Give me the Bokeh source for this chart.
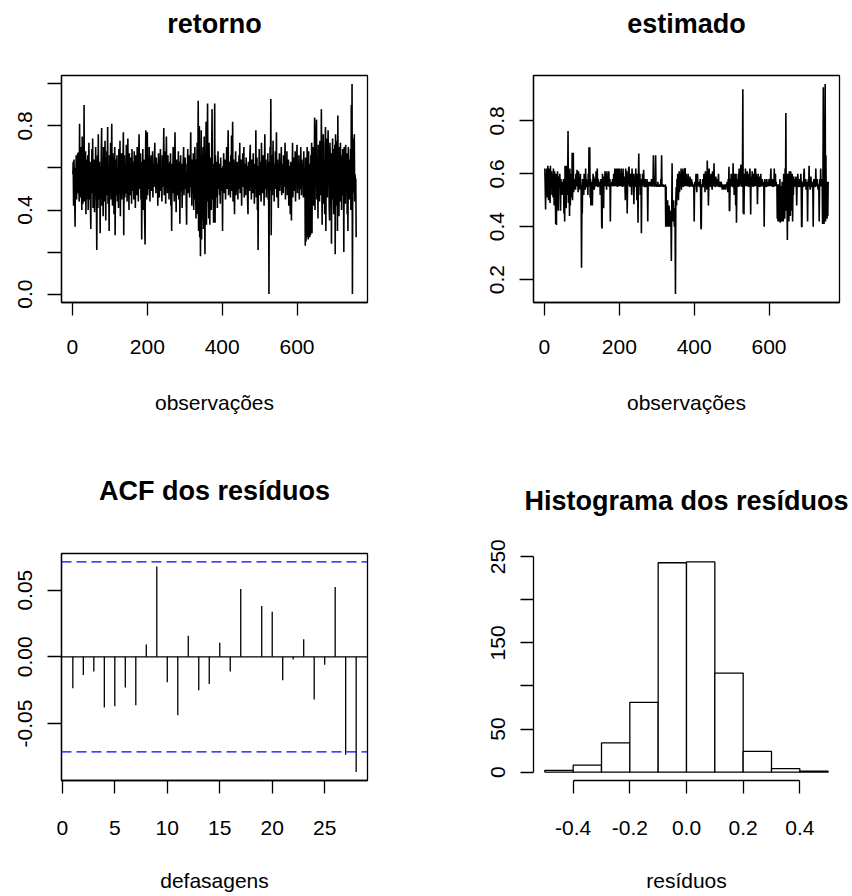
import numpy as np
from bokeh.plotting import figure
from bokeh.models import Range1d, FixedTicker, Span, Title
from bokeh.layouts import column, row
from bokeh.embed import file_html
from bokeh.resources import INLINE

FONT = "Liberation Sans"

# ---------------- data ----------------
B = 0.553  # flat level of the estimated series

retorno = [
    0.57, 0.63, 0.42, 0.64, 0.55, 0.47, 0.32, 0.60, 0.52, 0.66, 0.45, 0.58, 0.50, 0.67, 0.48, 0.675, 0.53, 0.44, 0.81, 0.50,
    0.62, 0.46, 0.70, 0.52, 0.40, 0.75, 0.55, 0.43, 0.68, 0.47, 0.90, 0.44, 0.61, 0.53, 0.68, 0.38, 0.57, 0.64, 0.45, 0.55,
    0.66, 0.40, 0.58, 0.72, 0.45, 0.52, 0.63, 0.42, 0.31, 0.60, 0.55, 0.69, 0.48, 0.74, 0.41, 0.57, 0.50, 0.64, 0.39, 0.62,
    0.47, 0.70, 0.53, 0.44, 0.21, 0.58, 0.66, 0.41, 0.76, 0.52, 0.45, 0.63, 0.55, 0.29, 0.60, 0.48, 0.68, 0.79, 0.42, 0.56,
    0.61, 0.37, 0.70, 0.50, 0.58, 0.44, 0.73, 0.53, 0.35, 0.64, 0.47, 0.68, 0.55, 0.795, 0.43, 0.59, 0.51, 0.30, 0.66, 0.49,
    0.58, 0.72, 0.45, 0.63, 0.81, 0.50, 0.42, 0.67, 0.55, 0.61, 0.38, 0.59, 0.70, 0.28, 0.54, 0.64, 0.47, 0.57, 0.66, 0.44,
    0.60, 0.52, 0.41, 0.69, 0.56, 0.48, 0.73, 0.37, 0.62, 0.54, 0.67, 0.45, 0.59, 0.50, 0.64, 0.77, 0.28, 0.58, 0.66, 0.46,
    0.55, 0.62, 0.48, 0.71, 0.53, 0.44, 0.63, 0.74, 0.51, 0.58, 0.40, 0.67, 0.55, 0.47, 0.65, 0.52, 0.60, 0.43, 0.69, 0.56,
    0.49, 0.63, 0.57, 0.45, 0.68, 0.52, 0.60, 0.41, 0.66, 0.55, 0.62, 0.47, 0.70, 0.53, 0.58, 0.44, 0.65, 0.76, 0.50, 0.61,
    0.54, 0.67, 0.45, 0.59, 0.26, 0.63, 0.51, 0.69, 0.40, 0.57, 0.64, 0.48, 0.35, 0.236, 0.60, 0.78, 0.52, 0.45, 0.66, 0.77,
    0.47, 0.58, 0.63, 0.50, 0.70, 0.55, 0.44, 0.61, 0.57, 0.66, 0.49, 0.59, 0.53, 0.68, 0.46, 0.62, 0.56, 0.51, 0.64, 0.72,
    0.54, 0.60, 0.48, 0.65, 0.56, 0.50, 0.62, 0.42, 0.58, 0.67, 0.52, 0.46, 0.63, 0.57, 0.69, 0.49, 0.60, 0.55, 0.44, 0.66,
    0.58, 0.51, 0.64, 0.79, 0.47, 0.60, 0.55, 0.68, 0.43, 0.62, 0.75, 0.52, 0.57, 0.48, 0.66, 0.54, 0.61, 0.45, 0.59, 0.63,
    0.50, 0.67, 0.42, 0.58, 0.30, 0.62, 0.55, 0.48, 0.70, 0.53, 0.60, 0.44, 0.65, 0.77, 0.51, 0.57, 0.39, 0.64, 0.56, 0.47,
    0.61, 0.53, 0.68, 0.45, 0.59, 0.63, 0.335, 0.57, 0.66, 0.49, 0.55, 0.62, 0.41, 0.58, 0.52, 0.64, 0.70, 0.47, 0.60, 0.54,
    0.65, 0.50, 0.58, 0.44, 0.33, 0.62, 0.56, 0.69, 0.48, 0.60, 0.53, 0.66, 0.46, 0.59, 0.63, 0.77, 0.51, 0.57, 0.42, 0.64,
    0.55, 0.48, 0.67, 0.40, 0.61, 0.52, 0.70, 0.45, 0.58, 0.36, 0.64, 0.50, 0.72, 0.38, 0.60, 0.92, 0.30, 0.55, 0.80, 0.27,
    0.62, 0.18, 0.45, 0.78, 0.26, 0.66, 0.35, 0.58, 0.70, 0.31, 0.52, 0.75, 0.40, 0.19, 0.63, 0.48, 0.82, 0.33, 0.57, 0.68,
    0.907, 0.44, 0.61, 0.36, 0.72, 0.52, 0.33, 0.65, 0.48, 0.58, 0.40, 0.69, 0.88, 0.45, 0.55, 0.62, 0.34, 0.60, 0.50, 0.907,
    0.34, 0.66, 0.52, 0.57, 0.46, 0.63, 0.41, 0.59, 0.68, 0.50, 0.55, 0.62, 0.47, 0.58, 0.43, 0.65, 0.53, 0.60, 0.49, 0.56,
    0.30, 0.61, 0.54, 0.67, 0.48, 0.59, 0.52, 0.64, 0.45, 0.60, 0.56, 0.70, 0.50, 0.58, 0.62, 0.78, 0.47, 0.55, 0.63, 0.51,
    0.59, 0.46, 0.66, 0.53, 0.755, 0.49, 0.61, 0.82, 0.44, 0.57, 0.64, 0.50, 0.38, 0.60, 0.55, 0.68, 0.47, 0.58, 0.52, 0.63,
    0.54, 0.45, 0.61, 0.57, 0.66, 0.50, 0.72, 0.48, 0.59, 0.53, 0.64, 0.42, 0.60, 0.55, 0.67, 0.51, 0.58, 0.70, 0.46, 0.62,
    0.53, 0.59, 0.47, 0.65, 0.55, 0.50, 0.61, 0.44, 0.38, 0.63, 0.56, 0.60, 0.49, 0.66, 0.71, 0.52, 0.57, 0.45, 0.64, 0.54,
    0.60, 0.48, 0.67, 0.53, 0.58, 0.43, 0.62, 0.55, 0.50, 0.78, 0.46, 0.59, 0.65, 0.40, 0.56, 0.21, 0.61, 0.52, 0.69, 0.47,
    0.58, 0.63, 0.51, 0.44, 0.72, 0.55, 0.60, 0.48, 0.66, 0.53, 0.57, 0.42, 0.62, 0.76, 0.50, 0.59, 0.64, 0.46, 0.56, 0.61,
    0.52, 0.67, 0.45, 0.58, 0.0, 0.63, 0.49, 0.70, 0.54, 0.928, 0.28, 0.60, 0.66, 0.47, 0.57, 0.73, 0.51, 0.62, 0.44, 0.59,
    0.55, 0.68, 0.50, 0.61, 0.77, 0.46, 0.58, 0.64, 0.53, 0.41, 0.60, 0.56, 0.67, 0.49, 0.59, 0.63, 0.52, 0.70, 0.47, 0.57,
    0.62, 0.54, 0.48, 0.66, 0.58, 0.51, 0.60, 0.72, 0.45, 0.57, 0.63, 0.53, 0.68, 0.47, 0.59, 0.55, 0.64, 0.42, 0.61, 0.56,
    0.50, 0.38, 0.63, 0.57, 0.35, 0.60, 0.52, 0.72, 0.46, 0.58, 0.65, 0.49, 0.61, 0.54, 0.68, 0.44, 0.59, 0.56, 0.63, 0.71,
    0.48, 0.57, 0.62, 0.52, 0.66, 0.45, 0.60, 0.55, 0.50, 0.70, 0.58, 0.47, 0.64, 0.53, 0.59, 0.62, 0.46, 0.68, 0.51, 0.56,
    0.60, 0.23, 0.65, 0.25, 0.58, 0.27, 0.70, 0.28, 0.55, 0.26, 0.68, 0.30, 0.62, 0.27, 0.59, 0.28, 0.66, 0.35, 0.72, 0.29,
    0.64, 0.48, 0.70, 0.42, 0.60, 0.55, 0.84, 0.40, 0.66, 0.52, 0.75, 0.83, 0.45, 0.62, 0.58, 0.36, 0.71, 0.50, 0.67, 0.44,
    0.73, 0.55, 0.61, 0.47, 0.88, 0.58, 0.33, 0.69, 0.52, 0.76, 0.43, 0.64, 0.57, 0.38, 0.71, 0.795, 0.30, 0.62, 0.50, 0.74,
    0.46, 0.66, 0.78, 0.54, 0.70, 0.41, 0.35, 0.72, 0.58, 0.49, 0.67, 0.24, 0.63, 0.52, 0.74, 0.45, 0.60, 0.38, 0.69, 0.55,
    0.71, 0.19, 0.76, 0.42, 0.64, 0.53, 0.73, 0.30, 0.85, 0.48, 0.62, 0.37, 0.70, 0.56, 0.44, 0.72, 0.51, 0.66, 0.40, 0.61,
    0.55, 0.69, 0.47, 0.63, 0.20, 0.70, 0.52, 0.58, 0.43, 0.71, 0.56, 0.49, 0.67, 0.38, 0.62, 0.30, 0.70, 0.53, 0.60, 0.45,
    0.64, 0.51, 0.69, 0.40, 0.90, 0.55, 1.0, 0.0, 0.62, 0.74, 0.48, 0.60, 0.76, 0.44, 0.57, 0.53, 0.55, 0.27,
]

estimado = [
    0.62, B, 0.465, 0.60, 0.53, 0.62, B, 0.51, 0.63, 0.57, 0.50, 0.62, B, 0.58, 0.49, 0.63, 0.56, B, 0.61, 0.52,
    0.60, B, 0.51, 0.62, 0.57, 0.48, 0.61, B, 0.55, 0.41, 0.60, 0.406, 0.58, B, 0.61, 0.53, 0.46, 0.59, B, 0.56,
    0.60, B, 0.46, 0.58, B, 0.57, 0.52, B, 0.56, B, 0.58, 0.45, B, 0.42, 0.63, B, 0.60, 0.47, 0.63, 0.52,
    0.62, 0.57, 0.762, 0.49, 0.60, 0.54, 0.44, 0.62, 0.48, 0.58, 0.55, 0.60, 0.51, 0.68, 0.50, 0.59, 0.68, 0.53, B, 0.57,
    B, 0.58, 0.54, 0.60, B, 0.56, 0.615, B, 0.57, 0.53, 0.61, B, 0.58, B, 0.54, 0.60, 0.56, B, 0.245, 0.47,
    0.45, 0.58, B, 0.56, 0.52, 0.60, B, 0.57, 0.54, 0.62, B, 0.58, 0.55, B, 0.57, 0.52, 0.60, B, 0.70, 0.56,
    0.70, 0.51, 0.58, 0.48, B, 0.57, B, 0.48, 0.56, 0.60, B, 0.59, 0.54, B, 0.58, B, 0.56, 0.61, B, 0.57,
    0.62, B, 0.55, 0.58, B, 0.56, B, 0.57, 0.52, B, 0.58, 0.56, 0.40, 0.393, 0.60, B, 0.57, 0.47, 0.59, B,
    0.58, 0.61, B, 0.56, 0.60, 0.54, 0.61, B, 0.57, 0.59, B, 0.61, 0.55, B, 0.58, 0.42, B, 0.56, B, 0.57,
    B, 0.58, 0.56, B, 0.60, B, 0.57, 0.62, B, 0.59, 0.56, 0.62, B, 0.58, 0.55, 0.62, B, 0.60, 0.56, 0.62,
    B, 0.58, 0.57, B, 0.62, 0.56, B, 0.60, 0.55, 0.62, B, 0.57, 0.59, B, 0.56, 0.50, 0.62, B, 0.57, 0.61,
    0.45, B, 0.60, 0.56, 0.62, 0.627, B, 0.58, 0.55, 0.60, B, 0.57, 0.52, 0.62, B, 0.56, 0.60, B, 0.485, 0.58,
    B, 0.60, 0.55, 0.62, B, 0.57, 0.50, 0.60, B, 0.415, 0.58, 0.677, B, 0.56, 0.60, 0.52, B, 0.58, 0.375, 0.57,
    B, 0.60, 0.56, B, 0.615, 0.57, B, 0.55, 0.58, B, 0.57, 0.55, B, 0.58, 0.56, 0.42, B, 0.57, B, 0.56,
    B, 0.57, B, 0.56, B, 0.58, B, B, 0.57, B, 0.67, B, 0.56, B, B, 0.58, 0.67, B, B, 0.56,
    B, B, 0.57, B, B, B, 0.56, B, B, B, 0.58, B, 0.67, B, B, B, 0.56, B, B, B,
    B, B, 0.56, 0.40, B, 0.40, 0.45, 0.40, 0.50, 0.40, 0.43, 0.40, 0.48, 0.41, 0.44, 0.40, 0.46, 0.42, 0.27, 0.45,
    0.64, 0.43, 0.48, 0.42, 0.50, 0.45, 0.40, 0.47, 0.42, 0.145, 0.50, 0.55, 0.48, 0.58, 0.51, 0.60, 0.52, 0.50, 0.57, 0.61,
    0.53, 0.60, B, 0.56, 0.62, 0.54, 0.61, B, 0.57, 0.62, 0.55, 0.60, B, 0.58, 0.62, 0.62, B, 0.57, 0.60, B,
    0.58, B, 0.56, 0.60, B, 0.57, B, 0.55, 0.59, B, 0.56, B, 0.58, B, 0.57, B, 0.55, B, 0.56, 0.42,
    B, 0.57, B, 0.56, 0.60, B, 0.53, 0.58, 0.60, B, 0.56, B, 0.57, B, 0.55, 0.58, B, 0.397, 0.39, B,
    0.56, B, 0.58, 0.55, B, 0.60, B, 0.57, 0.53, 0.61, B, 0.56, 0.59, 0.54, 0.65, 0.57, 0.60, 0.48, B, 0.62,
    0.56, B, 0.58, 0.55, 0.60, B, 0.57, 0.54, 0.61, B, 0.56, 0.58, 0.64, B, 0.57, 0.55, B, 0.59, 0.56, B,
    0.58, B, 0.56, B, 0.60, 0.55, B, 0.57, 0.56, B, 0.55, 0.57, 0.56, B, 0.54, 0.56, B, 0.55, 0.54, B,
    0.56, 0.55, B, 0.54, 0.56, B, 0.55, 0.57, B, 0.53, 0.58, B, 0.627, 0.46, 0.46, 0.58, B, 0.56, 0.60, B,
    0.57, B, 0.55, 0.64, B, 0.58, 0.52, 0.60, B, 0.56, 0.48, 0.60, 0.415, B, 0.58, 0.56, B, 0.60, 0.55, 0.62,
    B, 0.58, 0.56, 0.60, 0.635, B, 0.57, 0.55, 0.60, 0.92, 0.45, 0.60, 0.446, 0.58, 0.60, B, 0.62, 0.57, B, 0.60,
    0.56, 0.61, B, 0.58, 0.55, 0.60, B, 0.57, 0.62, B, 0.446, 0.59, B, 0.56, 0.61, B, 0.58, 0.55, 0.60, B,
    0.57, 0.62, B, 0.62, 0.56, 0.60, B, 0.58, 0.485, B, 0.60, 0.56, B, 0.59, 0.55, B, 0.57, 0.60, B, 0.56,
    B, 0.58, B, 0.56, B, 0.57, 0.40, B, 0.58, B, 0.56, B, 0.55, 0.58, B, 0.57, B, 0.56, B, 0.58,
    B, 0.57, B, 0.59, 0.62, B, 0.56, B, 0.58, 0.55, B, 0.57, B, 0.62, B, 0.56, 0.60, B, 0.57, B,
    0.56, 0.43, B, 0.42, 0.56, 0.44, B, 0.42, 0.58, 0.415, B, 0.45, B, 0.42, 0.57, 0.48, B, 0.42, 0.60, 0.47,
    0.58, 0.43, 0.62, 0.50, 0.83, 0.46, 0.57, 0.52, 0.35, 0.60, 0.45, 0.58, 0.42, 0.61, 0.48, 0.57, 0.44, 0.61, 0.50, 0.59,
    0.46, 0.60, 0.42, 0.57, 0.52, 0.59, B, 0.55, 0.58, B, 0.56, 0.59, B, 0.48, 0.57, B, 0.60, 0.55, B, 0.57,
    B, 0.58, 0.55, B, 0.60, B, 0.40, 0.40, B, 0.57, 0.55, B, 0.60, 0.62, B, 0.56, B, 0.58, 0.54, B,
    0.57, B, 0.42, B, 0.58, B, 0.63, B, 0.56, 0.54, B, 0.59, B, 0.55, B, 0.57, B, 0.40, B, 0.58,
    B, 0.56, B, 0.55, 0.62, B, 0.57, B, 0.58, B, 0.54, B, 0.56, 0.42, B, 0.58, B, 0.62, B, 0.56,
    B, 0.58, 0.41, B, 0.927, 0.50, 0.41, B, 0.60, 0.94, 0.42, 0.67, 0.44, 0.56, 0.43, 0.57, 0.44, 0.57,
]

acf_lags = list(range(1, 29))
acf_values = [-0.0236, -0.0136, -0.0110, -0.0380, -0.0370, -0.0229, -0.0362, 0.0093,
              0.0678, -0.0191, -0.0437, 0.0158, -0.0251, -0.0204, 0.0106, -0.0110,
              0.0508, 0.0003, 0.0382, 0.0339, -0.0176, -0.0020, 0.0133, -0.0319,
              -0.0060, 0.0523, -0.0734, -0.0864]
acf_ci = 0.0712

hist_edges = [-0.5, -0.4, -0.3, -0.2, -0.1, 0.0, 0.1, 0.2, 0.3, 0.4, 0.5]
hist_counts = [2, 8, 34, 81, 243, 244, 115, 24, 4, 1]

ts_xticks = [0, 200, 400, 600]
ts_xlabels = ["0", "200", "400", "600"]
ret_yticks = [0.0, 0.2, 0.4, 0.6, 0.8, 1.0]
ret_ylabels = ["0.0", "", "0.4", "", "0.8", ""]
est_yticks = [0.2, 0.4, 0.6, 0.8]
est_ylabels = ["0.2", "0.4", "0.6", "0.8"]
acf_xticks = [0, 5, 10, 15, 20, 25]
acf_xlabels = ["0", "5", "10", "15", "20", "25"]
acf_yticks = [-0.05, 0.0, 0.05]
acf_ylabels = ["-0.05", "0.00", "0.05"]
hist_xticks = [-0.4, -0.2, 0.0, 0.2, 0.4]
hist_xlabels = ["-0.4", "-0.2", "0.0", "0.2", "0.4"]
hist_yticks = [0, 50, 100, 150, 200, 250]
hist_ylabels = ["0", "50", "", "150", "", "250"]

FW, FH = 306, 227  # plot-region size in pixels


def padded(lo, hi, frac=0.04):
    d = (hi - lo) * frac
    return (lo - d, hi + d)


def make_fig(w, h, bl, bt, xr, yr, box=True):
    p = figure(width=w, height=h, output_backend="svg", toolbar_location=None,
               x_range=Range1d(*xr), y_range=Range1d(*yr),
               min_border_left=bl, min_border_right=w - bl - FW,
               min_border_top=bt, min_border_bottom=h - bt - FH)
    p.grid.visible = False
    p.background_fill_color = "white"
    p.border_fill_color = "white"
    if box:
        p.outline_line_color = "black"
        p.outline_line_width = 1.3
        p.outline_line_alpha = 1.0
    else:
        p.outline_line_color = None
    return p


def style_axis(ax, ticks, labels, tick_len, standoff, vertical=False, label=None, label_standoff=0, bounds=None):
    ax.ticker = FixedTicker(ticks=ticks, minor_ticks=[])
    ax.major_label_overrides = {t: s for t, s in zip(ticks, labels)}
    ax.major_tick_in = 0
    ax.major_tick_out = tick_len
    ax.minor_tick_in = 0
    ax.minor_tick_out = 0
    ax.major_tick_line_color = "black"
    ax.major_tick_line_width = 1.3
    ax.axis_line_color = "black"
    ax.axis_line_width = 1.3
    ax.major_label_text_font = FONT
    ax.major_label_text_font_size = "21px"
    ax.major_label_text_color = "black"
    ax.major_label_standoff = standoff
    if vertical:
        ax.major_label_orientation = "vertical"
    if label is not None:
        ax.axis_label = label
        ax.axis_label_text_font = FONT
        ax.axis_label_text_font_size = "21px"
        ax.axis_label_text_font_style = "normal"
        ax.axis_label_text_color = "black"
        ax.axis_label_standoff = label_standoff
    if bounds is not None:
        ax.bounds = bounds


def add_title(p, text, gap):
    # an empty spacer panel next to the plot region, then the bold title above it
    p.add_layout(Title(text=" ", text_font_size="1px", standoff=gap), "above")
    p.add_layout(Title(text=text, align="center", text_font=FONT, text_font_size="27px",
                       text_font_style="bold", text_color="black", standoff=0), "above")


n = len(retorno)
obs = np.arange(1, n + 1)

# ---- panel 1: retorno ----
p1 = make_fig(426, 440, 61, 75, padded(1, n), padded(min(retorno), max(retorno)))
p1.line(obs, retorno, line_color="black", line_width=1.6)
add_title(p1, "retorno", 34)
style_axis(p1.xaxis[0], ts_xticks, ts_xlabels, 13, 24, label="observações", label_standoff=34)
style_axis(p1.yaxis[0], ret_yticks, ret_ylabels, 14, 15, vertical=True)

# ---- panel 2: estimado ----
p2 = make_fig(426, 440, 107, 75, padded(1, n), padded(min(estimado), max(estimado)))
p2.line(obs, estimado, line_color="black", line_width=1.6)
add_title(p2, "estimado", 34)
style_axis(p2.xaxis[0], ts_xticks, ts_xlabels, 13, 24, label="observações", label_standoff=34)
style_axis(p2.yaxis[0], est_yticks, est_ylabels, 14, 15, vertical=True)

# ---- panel 3: ACF ----
acf_lo = min(min(acf_values), -acf_ci)
acf_hi = max(max(acf_values), acf_ci)
p3 = make_fig(426, 456, 61, 113, padded(min(acf_lags), max(acf_lags)), padded(acf_lo, acf_hi))
p3.segment(x0=acf_lags, y0=[0] * len(acf_lags), x1=acf_lags, y1=acf_values,
           line_color="black", line_width=1.3)
p3.add_layout(Span(location=0, dimension="width", line_color="black", line_width=1.3))
for c in (acf_ci, -acf_ci):
    p3.add_layout(Span(location=c, dimension="width", line_color="#0000FF",
                       line_width=1.3, line_dash="10 5"))
add_title(p3, "ACF dos resíduos", 45)
style_axis(p3.xaxis[0], acf_xticks, acf_xlabels, 13, 27, label="defasagens", label_standoff=31)
style_axis(p3.yaxis[0], acf_yticks, acf_ylabels, 14, 15, vertical=True)

# ---- panel 4: histogram ----
p4 = make_fig(426, 456, 107, 113, padded(hist_edges[0], hist_edges[-1]),
              padded(0, max(hist_counts)), box=False)
p4.quad(left=hist_edges[:-1], right=hist_edges[1:], bottom=0, top=hist_counts,
        fill_color="white", line_color="black", line_width=1.3)
add_title(p4, "Histograma dos resíduos", 35)
style_axis(p4.xaxis[0], hist_xticks, hist_xlabels, 13, 27, label="resíduos", label_standoff=31,
           bounds=(hist_xticks[0], hist_xticks[-1]))
style_axis(p4.yaxis[0], hist_yticks, hist_ylabels, 13, 15, vertical=True,
           bounds=(hist_yticks[0], hist_yticks[-1]))

layout = column(row(p1, p2), row(p3, p4))
open("out.html", "w").write(file_html(layout, INLINE))
